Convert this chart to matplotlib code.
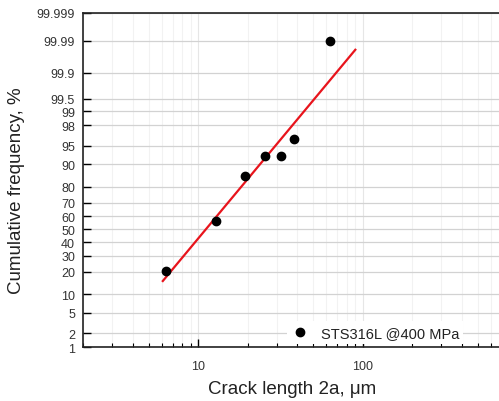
import numpy as np
import matplotlib
matplotlib.use("Agg")
import matplotlib.pyplot as plt
from statistics import NormalDist
import math

plt.rcParams['font.family'] = ['Liberation Sans', 'DejaVu Sans']

# Data
crack_len = [6.4, 12.9, 19.2, 25.6, 31.9, 38.3, 63.7]          # um
cum_freq = [20.6, 56.3, 85.4, 92.7, 92.7, 96.3, 99.99]          # %
fit_x = [6.09, 90.3]
fit_p = [15.4, 99.98]
y_ticks = [1, 2, 5, 10, 20, 30, 40, 50, 60, 70, 80, 90, 95, 98, 99, 99.5, 99.9, 99.99, 99.999]
y_tick_labels = ['1', '2', '5', '10', '20', '30', '40', '50', '60', '70', '80', '90',
                 '95', '98', '99', '99.5', '99.9', '99.99', '99.999']
x_ticks = [10, 100]
x_tick_labels = ['10', '100']
series_label = 'STS316L @400 MPa'

_nd = NormalDist()


def _fwd_scalar(p):
    q = min(max(p / 100.0, 1e-12), 1 - 1e-12)
    return _nd.inv_cdf(q)


def _inv_scalar(z):
    return 100.0 * 0.5 * (1 + math.erf(z / math.sqrt(2)))


_fwd_v = np.vectorize(_fwd_scalar, otypes=[float])
_inv_v = np.vectorize(_inv_scalar, otypes=[float])


def forward(p):
    p = np.asarray(p, dtype=float)
    if p.size == 0:
        return p
    return _fwd_v(p)


def inverse(z):
    z = np.asarray(z, dtype=float)
    if z.size == 0:
        return z
    return _inv_v(z)


W, H = 499, 402
fig = plt.figure(figsize=(W / 100, H / 100), dpi=100)
left, right = 83.3, 527.0
top, bottom = 14.0, 348.3
ax = fig.add_axes([left / W, 1 - bottom / H, (right - left) / W, (bottom - top) / H])

ax.set_xscale('log')
ax.set_yscale('function', functions=(forward, inverse))
ax.set_xlim(2, 1000)
ax.set_ylim(1, 99.999)

ax.set_yticks(y_ticks)
ax.set_yticklabels(y_tick_labels)
ax.yaxis.set_minor_locator(matplotlib.ticker.NullLocator())

ax.xaxis.set_major_locator(matplotlib.ticker.FixedLocator(x_ticks))
ax.xaxis.set_major_formatter(matplotlib.ticker.FixedFormatter(x_tick_labels))
ax.xaxis.set_minor_locator(matplotlib.ticker.LogLocator(base=10, subs=np.arange(2, 10)))
ax.xaxis.set_minor_formatter(matplotlib.ticker.NullFormatter())

# Grids
ax.grid(True, axis='y', which='major', color='#d2d2d2', linewidth=0.9)
ax.grid(True, axis='x', which='major', color='#e6e6e6', linewidth=0.8)
ax.grid(True, axis='x', which='minor', color='#f2f2f2', linewidth=0.8)
ax.set_axisbelow(True)

ax.tick_params(axis='both', which='major', direction='in', length=6, width=1,
               labelsize=9, labelcolor='#333333')
ax.tick_params(axis='x', which='major', pad=9)
ax.tick_params(axis='x', which='minor', direction='in', length=3, width=0.8)
ax.tick_params(axis='y', which='major', pad=6)

for s in ['left', 'bottom', 'top']:
    ax.spines[s].set_linewidth(1.2)
    ax.spines[s].set_color('#222222')
ax.spines['right'].set_visible(False)

ax.plot(fit_x, fit_p, color='#e8141c', linewidth=1.6, zorder=3)
ax.plot(crack_len, cum_freq, 'o', color='black', markersize=6, linestyle='none',
        label=series_label, zorder=4)

leg = ax.legend(loc='lower left', bbox_to_anchor=((287 - left) / (right - left), (348.3 - 345) / (bottom - top)),
                frameon=True, fontsize=10.5, handlelength=1.2, handletextpad=0.8,
                borderpad=0.3, borderaxespad=0)
leg.get_frame().set_edgecolor('none')
leg.get_frame().set_facecolor('white')
leg.get_frame().set_alpha(1)
leg.get_frame().set_boxstyle('square', pad=0)
for t in leg.get_texts():
    t.set_color('#222222')

fig.text(292.5 / W, 1 - 390 / H, 'Crack length 2a, \u03bcm', ha='center', va='center',
         fontsize=13.5, color='#222222')
fig.text(17 / W, 1 - 190.7 / H, 'Cumulative frequency, %', ha='center', va='center',
         rotation=90, fontsize=13.5, color='#222222')

fig.savefig('out.png', dpi=100)
